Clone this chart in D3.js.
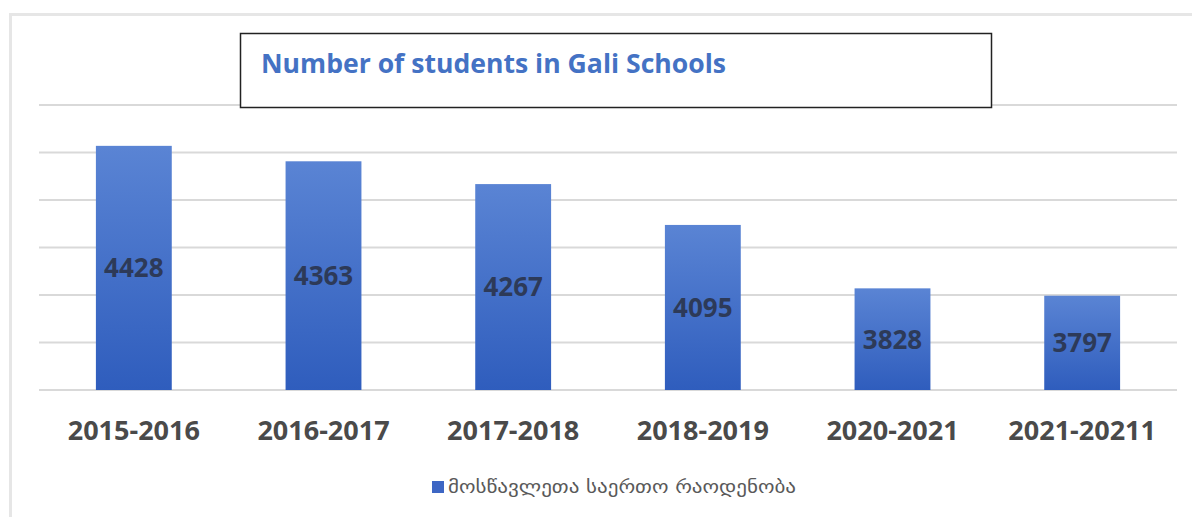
<!DOCTYPE html>
<html>
<head>
<meta charset="utf-8">
<script src="https://cdn.jsdelivr.net/npm/d3@7"></script>
<style>
  body { margin: 0; background: #fff; }
  svg { display: block; }
</style>
</head>
<body>
<script>
// chart data
var years = ["2015-2016", "2016-2017", "2017-2018", "2018-2019", "2020-2021", "2021-20211"];
var students = [4428, 4363, 4267, 4095, 3828, 3797];
var gridTicks = [3400, 3600, 3800, 4000, 4200, 4400, 4600];
var chartTitle = "Number of students in Gali Schools";
var legendLabel = "მოსწავლეთა საერთო რაოდენობა";

var width = 1192, height = 517;

var svg = d3.select("body").append("svg")
    .attr("width", width)
    .attr("height", height);

// gradient for the bars
var grad = svg.append("defs").append("linearGradient")
    .attr("id", "barGrad")
    .attr("x1", 0).attr("y1", 0).attr("x2", 0).attr("y2", 1);
grad.append("stop").attr("offset", "0%").attr("stop-color", "#5a84d4");
grad.append("stop").attr("offset", "100%").attr("stop-color", "#2f5dbd");

// outer frame (light grey, open to the right)
svg.append("path")
    .attr("d", "M10.5," + height + "V14.5H" + width)
    .attr("fill", "none")
    .attr("stroke", "#e6e6e6")
    .attr("stroke-width", 3);

var x = d3.scaleBand()
    .domain(years)
    .range([39, 1177])
    .paddingInner(0.6)
    .paddingOuter(0.3);

var y = d3.scaleLinear()
    .domain([3400, 4600])
    .range([390, 105]);

// gridlines
svg.append("g").selectAll("line")
    .data(gridTicks)
  .enter().append("line")
    .attr("x1", 39)
    .attr("x2", 1177)
    .attr("y1", function(d) { return y(d); })
    .attr("y2", function(d) { return y(d); })
    .attr("stroke", "#d9d9d9")
    .attr("stroke-width", 2);

// bars
svg.append("g").selectAll("rect")
    .data(students)
  .enter().append("rect")
    .attr("x", function(d, i) { return x(years[i]); })
    .attr("y", function(d) { return y(d); })
    .attr("width", x.bandwidth())
    .attr("height", function(d) { return y(3400) - y(d); })
    .attr("fill", "url(#barGrad)");

// value labels, centered in the bar
svg.append("g").selectAll("text")
    .data(students)
  .enter().append("text")
    .attr("x", function(d, i) { return x(years[i]) + x.bandwidth() / 2; })
    .attr("y", function(d) { return (y(d) + y(3400)) / 2; })
    .attr("dy", "0.36em")
    .attr("text-anchor", "middle")
    .style("font-family", "'Open Sans', sans-serif")
    .style("font-weight", "bold")
    .style("font-size", "26px")
    .style("fill", "#2d3a58")
    .text(function(d) { return d; });

// category axis
var xAxis = svg.append("g")
    .attr("transform", "translate(0,390)")
    .call(d3.axisBottom(x).tickSize(0).tickPadding(0));
xAxis.select(".domain").remove();
xAxis.selectAll("text")
    .attr("y", 50)
    .attr("dy", 0)
    .style("font-family", "'Open Sans', sans-serif")
    .style("font-weight", "bold")
    .style("font-size", "27px")
    .style("fill", "#4a4a4a");

// title box
svg.append("rect")
    .attr("x", 240.5)
    .attr("y", 33.5)
    .attr("width", 751)
    .attr("height", 74)
    .attr("fill", "#fff")
    .attr("stroke", "#222")
    .attr("stroke-width", 1.5);

svg.append("text")
    .attr("x", 261)
    .attr("y", 73)
    .attr("textLength", 465)
    .attr("lengthAdjust", "spacingAndGlyphs")
    .style("font-family", "'Open Sans', sans-serif")
    .style("font-weight", "bold")
    .style("font-size", "27px")
    .style("fill", "#4472c4")
    .text(chartTitle);

// legend
var legend = svg.append("g").attr("transform", "translate(432,481)");
legend.append("rect")
    .attr("width", 12)
    .attr("height", 12)
    .attr("fill", "#3d66c4");
legend.append("text")
    .attr("x", 16)
    .attr("y", 6)
    .attr("dy", "0.35em")
    .attr("textLength", 348)
    .attr("lengthAdjust", "spacingAndGlyphs")
    .style("font-family", "'DejaVu Sans', sans-serif")
    .style("font-size", "18px")
    .style("fill", "#595959")
    .text(legendLabel);
</script>
</body>
</html>
